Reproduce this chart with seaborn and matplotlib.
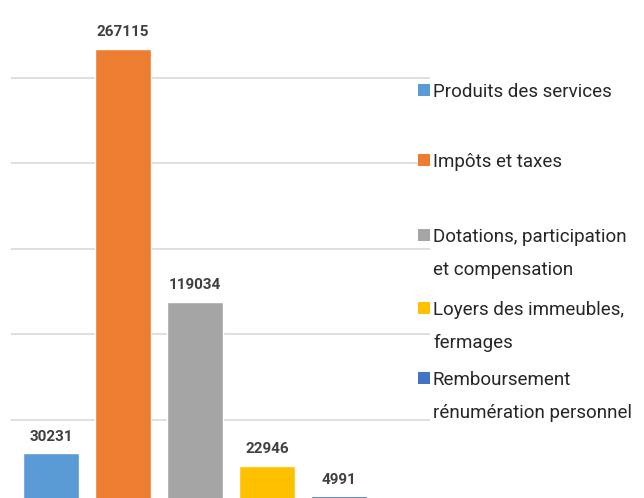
import matplotlib
matplotlib.use("Agg")
import matplotlib.pyplot as plt
from matplotlib.patches import Rectangle
import seaborn as sns
import pandas as pd

categories = [
    "Produits des services",
    "Impôts et taxes",
    "Dotations, participation et compensation",
    "Loyers des immeubles, fermages",
    "Remboursement rénumération personnel",
]
legend_lines = [
    ["Produits des services"],
    ["Impôts et taxes"],
    ["Dotations, participation", "et compensation"],
    ["Loyers des immeubles,", "fermages"],
    ["Remboursement", "rénumération personnel"],
]
values = [30231, 267115, 119034, 22946, 4991]
colors = ["#5B9BD5", "#ED7D31", "#A5A5A5", "#FFC000", "#4472C4"]
grid_values = [50000, 100000, 150000, 200000, 250000]

sns.set_style("white")
plt.rcParams["font.family"] = ["Liberation Sans Narrow", "Roboto", "DejaVu Sans"]

W, H = 644, 498
fig = plt.figure(figsize=(W / 100, H / 100), dpi=100)
ax = fig.add_axes([11 / W, 0, (430 - 11) / W, 1])

df = pd.DataFrame({"cat": categories, "val": values})
sns.barplot(data=df, x="cat", y="val", hue="cat", palette=colors,
            width=0.78, saturation=1, legend=False, ax=ax, zorder=2)

ax.set_yticks(grid_values)
ax.set_xlim(-40 / 72, (419 - 40) / 72)
ax.set_ylim(4100, 295500)
ax.yaxis.grid(True, color="#D9D9D9", linewidth=1.2, zorder=0)
ax.xaxis.grid(False)
ax.set_axisbelow(True)
ax.tick_params(left=False, bottom=False, labelleft=False, labelbottom=False)
ax.set_xlabel("")
ax.set_ylabel("")
for s in ax.spines.values():
    s.set_visible(False)

for i, v in enumerate(values):
    ax.annotate(f"{v}", xy=(i, v), xytext=(0, 9), textcoords="offset points",
                ha="center", va="baseline", fontsize=11, fontweight="bold",
                color="#404040")

# Legend (manual layout, like the Excel legend)
first_baselines = [97, 167, 242, 315, 385]
line_gap = 33
for lines, base, col in zip(legend_lines, first_baselines, colors):
    fig.add_artist(Rectangle((418 / W, 1 - (base - 1) / H), 12 / W, 12 / H,
                             transform=fig.transFigure, facecolor=col,
                             edgecolor="none"))
    for k, ln in enumerate(lines):
        fig.text(433 / W, 1 - (base + k * line_gap) / H, ln, ha="left",
                 va="baseline", fontsize=13.5, color="#262626")

fig.savefig("out.png", dpi=100)
